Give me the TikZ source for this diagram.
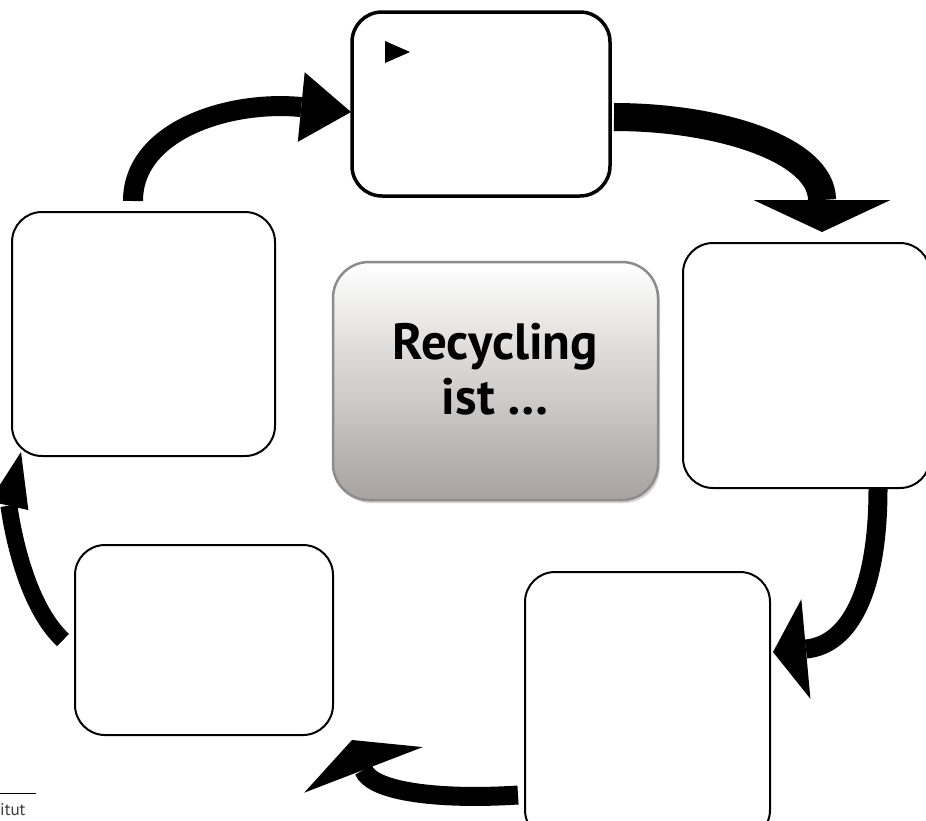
\documentclass[tikz,border=0pt]{standalone}
\usepackage{fontspec}
\setmainfont{PT Sans}
\usetikzlibrary{arrows.meta,shadows}
\definecolor{HubGrey}{HTML}{A8A3A0}
\definecolor{RimGrey}{HTML}{8C8C8C}
\definecolor{FootGrey}{HTML}{3C3C3C}

\begin{document}
\begin{tikzpicture}[x=1pt,y=-1pt,
      slot/.style={draw=black,line width=2pt,rounded corners=30pt,inner sep=0pt},
      hub/.style={draw=RimGrey,line width=2.5pt,rounded corners=36pt,top color=white,bottom color=HubGrey,
        drop shadow={shadow xshift=2pt,shadow yshift=-3pt,fill=gray!70,opacity=0.5},
        align=center,font=\bfseries\fontsize{51}{55}\selectfont,text depth=24pt},
      swoosh/.style n args={3}{line width=#1,-{Triangle[length=#2,width=#3,line width=0pt]}}]
    \useasboundingbox (0,0) rectangle (926,820);
    % the five empty boxes round the hub
    \node[slot,line width=3.5pt,minimum width=258pt,minimum height=184pt] (top) at (481,104) {};
    \node[slot,minimum width=247pt,minimum height=245pt] (right) at (806.5,365.5) {};
    \node[slot,minimum width=245pt,minimum height=268pt] (lowright) at (647.5,706) {};
    \node[slot,minimum width=258pt,minimum height=190pt] (lowleft) at (204,640) {};
    \node[slot,minimum width=263pt,minimum height=244pt] (left) at (143.5,334) {};
    \node[hub,minimum width=325pt,minimum height=238pt] (hub) at (495.5,381) {Recycling\\ist …};
    \fill (385,41) -- (410,52) -- (385,63) -- cycle;
    % block arrows, clockwise
    \coordinate (a1s) at (133,201);  \coordinate (a1e) at (351,112);
    \coordinate (a2s) at (614,117);  \coordinate (a2e) at (822,232);
    \coordinate (a3s) at (878,489);  \coordinate (a3e) at (773,652);
    \coordinate (a4s) at (518,795);  \coordinate (a4e) at (352,740);
    \coordinate (a5s) at (63,640);   \coordinate (a5e) at (21,452);
    \draw[swoosh={20pt}{50pt}{70pt}] (a1s) .. controls (133,130) and (230,100) .. (a1e);
    \draw[swoosh={28pt}{32pt}{137pt}] (a2s) .. controls (720,117) and (822,150) .. (a2e);
    \draw[swoosh={19pt}{33pt}{100pt}] (a3s) .. controls (878,590) and (850,645) .. (a3e);
    \draw[swoosh={19pt}{32pt}{127pt}] (a4s) .. controls (440,800) and (372,792) .. (a4e);
    \draw[swoosh={17pt}{55pt}{40pt}] (a5s) .. controls (20,600) and (9,505) .. (a5e);
    % footer
    \node[font=\fontsize{17}{20}\selectfont,text=FootGrey,anchor=base west,inner sep=0pt] (foot) at (0,815) {itut};
    \draw[line width=1pt] (0,793) -- (36,793);
  \end{tikzpicture}
\end{document}
